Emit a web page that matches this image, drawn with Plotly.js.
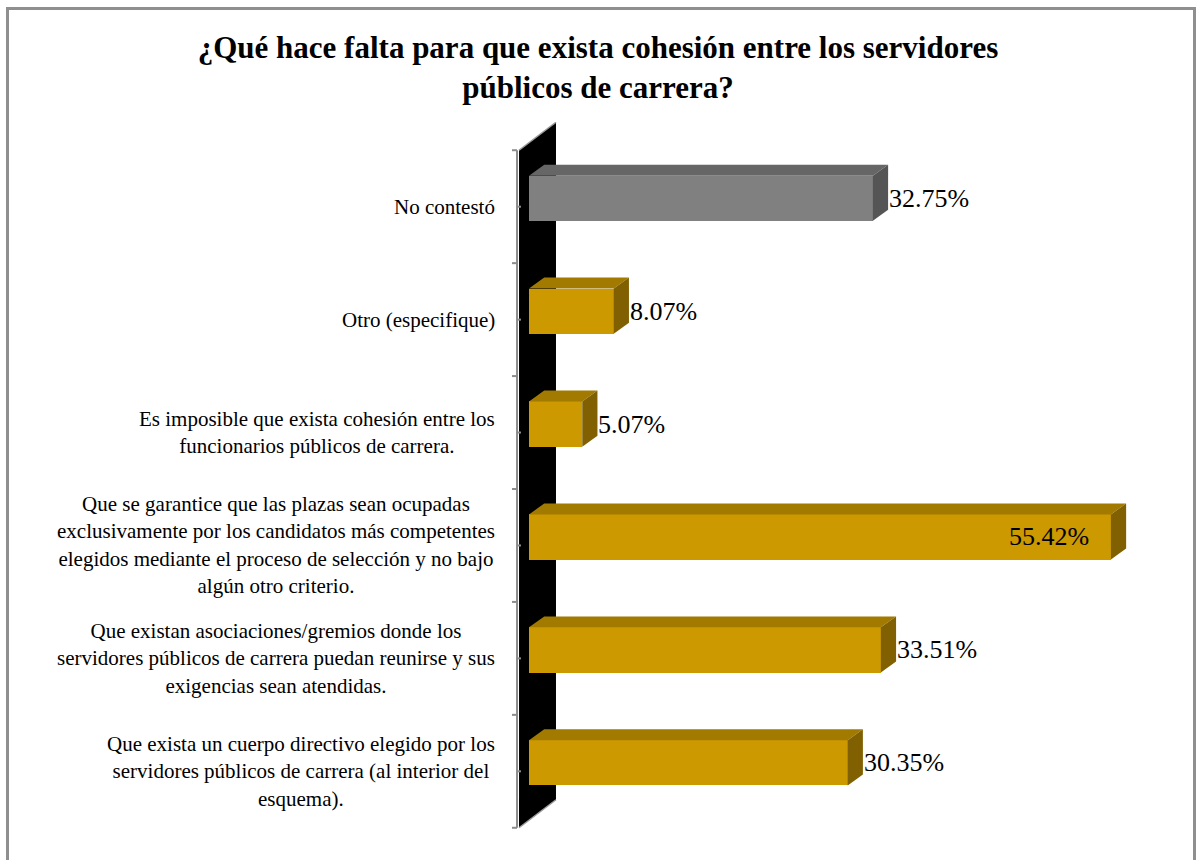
<!DOCTYPE html>
<html>
<head>
<meta charset="utf-8">
<script src="https://cdn.plot.ly/plotly-3.0.1.min.js"></script>
<style>
  html, body { margin: 0; padding: 0; background: #ffffff; }
  #wrap { position: relative; width: 1196px; height: 860px; overflow: hidden; }
  #chart { position: absolute; left: 0; top: 0; width: 1196px; height: 860px; }
  #frame { position: absolute; left: 6px; top: 7px; width: 1190px; height: 900px;
           border: 3px solid #8f8f8f; pointer-events: none; box-sizing: border-box; }
</style>
</head>
<body>
<div id="wrap">
  <div id="chart"></div>
  <div id="frame"></div>
</div>
<script>
// ---- data (bottom to top, as drawn) ----
const categories = [
  "Que exista un cuerpo directivo elegido por los<br>servidores públicos de carrera (al interior del<br>esquema).",
  "Que existan asociaciones/gremios donde los<br>servidores públicos de carrera puedan reunirse y sus<br>exigencias sean atendidas.",
  "Que se garantice que las plazas sean ocupadas<br>exclusivamente por los candidatos más competentes<br>elegidos mediante el proceso de selección y no bajo<br>algún otro criterio.",
  "Es imposible que exista cohesión entre los<br>funcionarios públicos de carrera.",
  "Otro (especifique)",
  "No contestó"
];
const values = [30.35, 33.51, 55.42, 5.07, 8.07, 32.75];
const valueLabels = ["30.35%", "33.51%", "55.42%", "5.07%", "8.07%", "32.75%"];
const titleText = "¿Qué hace falta para que exista cohesión entre los servidores<br>públicos de carrera?";

// ---- styles ----
const frontColors = ["#CC9900", "#CC9900", "#CC9900", "#CC9900", "#CC9900", "#808080"];
const topColors   = ["#A37A00", "#A37A00", "#A37A00", "#A37A00", "#A37A00", "#666666"];
const sideColors  = ["#806000", "#806000", "#806000", "#806000", "#806000", "#555555"];

const xRange = [-2, 60];
const yRange = [-0.75, 5.75];
const barWidth = 0.4;
const barOffset = -0.125;     // bar spans y+offset .. y+offset+width
const depthX = 1.45;          // 3D depth in x units
const depthY = 0.097;         // 3D depth in y units

const idx = categories.map((_, i) => i);
const traces = [];

// front faces: real bars
traces.push({
  type: "bar", orientation: "h",
  x: values, y: idx,
  width: barWidth, offset: barOffset,
  marker: { color: frontColors, line: { width: 0 } },
  hoverinfo: "x", showlegend: false
});

// top & side faces, computed from the values
values.forEach((v, i) => {
  const yb = i + barOffset, yt = i + barOffset + barWidth;
  traces.push({
    type: "scatter", mode: "lines", fill: "toself",
    x: [0, depthX, v + depthX, v, 0],
    y: [yt, yt + depthY, yt + depthY, yt, yt],
    fillcolor: topColors[i], line: { width: 0, color: topColors[i] },
    hoverinfo: "skip", showlegend: false
  });
  traces.push({
    type: "scatter", mode: "lines", fill: "toself",
    x: [v, v + depthX, v + depthX, v, v],
    y: [yt, yt + depthY, yb + depthY, yb, yt],
    fillcolor: sideColors[i], line: { width: 0, color: sideColors[i] },
    hoverinfo: "skip", showlegend: false
  });
});

// wall + axis decoration
const n = categories.length;
const wallFront = -0.95, wallBack = 2.57, wallDy = 0.248, axisX = -1.14;
const shapes = [];
shapes.push({
  type: "path", layer: "below", xref: "x", yref: "y",
  path: `M ${wallFront},${-0.5} L ${wallFront},${n - 0.5} L ${wallBack},${n - 0.5 + wallDy} L ${wallBack},${-0.5 + wallDy} Z`,
  fillcolor: "#000000", line: { width: 0 }
});
shapes.push({ type: "line", layer: "below", xref: "x", yref: "y",
  x0: wallFront, y0: n - 0.5, x1: wallBack, y1: n - 0.5 + wallDy, line: { color: "#9a9a9a", width: 1.5 } });
shapes.push({ type: "line", layer: "below", xref: "x", yref: "y",
  x0: wallFront, y0: -0.5, x1: wallBack, y1: -0.5 + wallDy, line: { color: "#9a9a9a", width: 1.5 } });
shapes.push({ type: "line", layer: "below", xref: "x", yref: "y",
  x0: axisX, y0: -0.5, x1: axisX, y1: n - 0.5, line: { color: "#8c8c8c", width: 2 } });
for (let k = 0; k <= n; k++) {
  shapes.push({ type: "line", layer: "below", xref: "x", yref: "y",
    x0: -1.62, y0: k - 0.5, x1: axisX, y1: k - 0.5, line: { color: "#8c8c8c", width: 2 } });
}
for (let k = 0; k < n; k++) {
  shapes.push({ type: "line", layer: "above", xref: "x", yref: "y",
    x0: axisX, y0: k, x1: -0.76, y1: k, line: { color: "#8c8c8c", width: 2 } });
}

// annotations: category labels and value labels
const annotations = [];
categories.forEach((c, i) => {
  annotations.push({
    xref: "x", yref: "y", x: xRange[0], y: i, xshift: -11,
    xanchor: "right", yanchor: "middle", align: "center",
    text: c, showarrow: false,
    font: { family: "Liberation Serif, Times New Roman, serif", size: 21, color: "#000000" }
  });
});
values.forEach((v, i) => {
  const yc = i + barOffset + barWidth / 2;
  const inside = v + 8 > xRange[1];
  annotations.push({
    xref: "x", yref: "y", x: v, y: yc,
    xshift: inside ? -20 : 14,
    xanchor: inside ? "right" : "left", yanchor: "middle",
    text: valueLabels[i], showarrow: false,
    font: { family: "Liberation Serif, Times New Roman, serif", size: 26, color: "#000000" }
  });
});

const layout = {
  width: 1196, height: 860,
  margin: { l: 508, r: 37, t: 121.75, b: 3.75, pad: 0 },
  paper_bgcolor: "#ffffff", plot_bgcolor: "rgba(0,0,0,0)",
  title: {
    text: "<b>" + titleText + "</b>",
    xref: "container", x: 0.5, xanchor: "center",
    yref: "container", y: 1 - 58 / 860, yanchor: "top",
    font: { family: "Liberation Serif, Times New Roman, serif", size: 31, color: "#000000" }
  },
  xaxis: { range: xRange, visible: false, fixedrange: true },
  yaxis: { range: yRange, visible: false, fixedrange: true },
  shapes: shapes,
  annotations: annotations,
  showlegend: false,
  bargap: 0
};

Plotly.newPlot("chart", traces, layout, { displayModeBar: false, staticPlot: true });
</script>
</body>
</html>
